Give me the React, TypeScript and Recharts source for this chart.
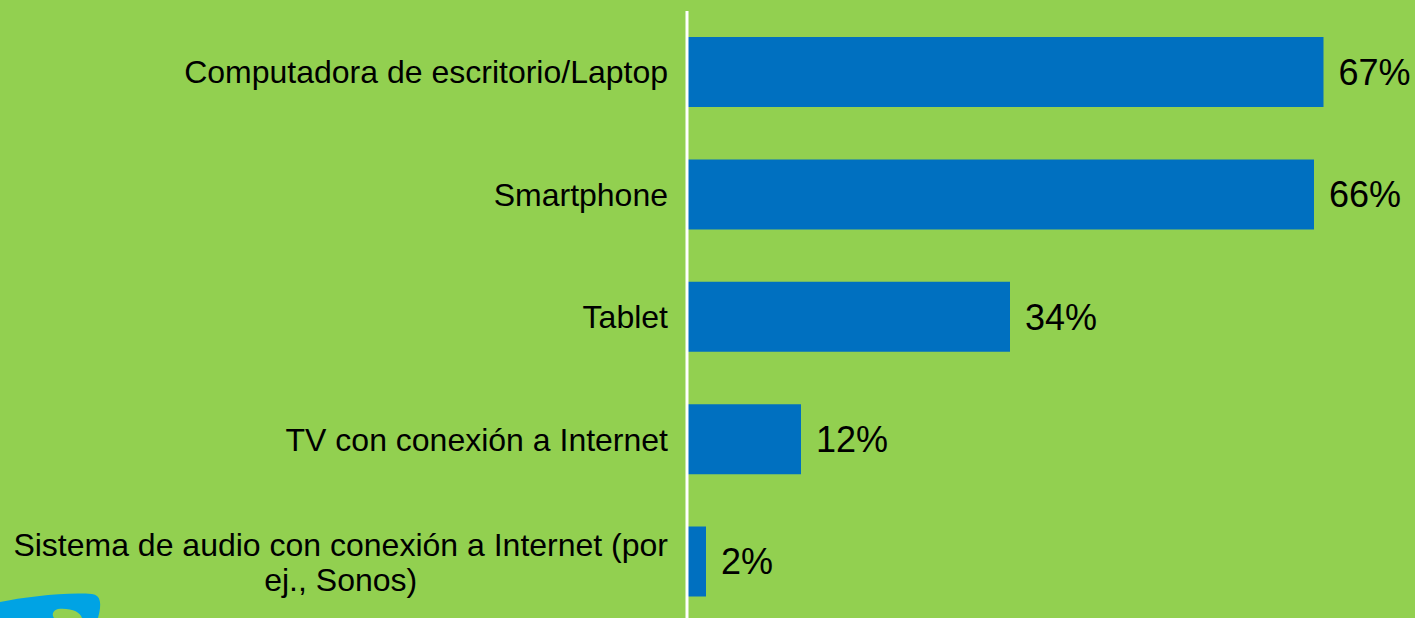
import React from "react";
import { BarChart, Bar, XAxis, YAxis, LabelList } from "recharts";

// devices used to access the internet (share of respondents, %)
const categories = [
  "Computadora de escritorio/Laptop",
  "Smartphone",
  "Tablet",
  "TV con conexión a Internet",
  "Sistema de audio con conexión a Internet (por\nej., Sonos)",
];
const shares = [67, 66, 34, 12, 2];

const data = categories.map((name, i) => ({ name, value: shares[i] }));

const GREEN = "#92D050";
const BLUE = "#0070C0";
const FONT = "'Liberation Sans', Arial, sans-serif";
const LABEL_SIZE = 32;

let ctx: CanvasRenderingContext2D | null = null;
const textWidth = (t: string) => {
  if (!ctx) ctx = document.createElement("canvas").getContext("2d");
  if (!ctx) return t.length * LABEL_SIZE * 0.5;
  ctx.font = `${LABEL_SIZE}px ${FONT}`;
  return ctx.measureText(t).width;
};

const CategoryTick = (props: any) => {
  const { x, y, payload } = props;
  const lines: string[] = String(payload.value).split("\n");
  const lh = 35;

  if (lines.length === 1) {
    return (
      <text x={x} y={y} dy="0.35em" textAnchor="end" fontSize={LABEL_SIZE} fontFamily={FONT} fill="#000">
        {lines[0]}
      </text>
    );
  }

  // multi-line labels are centred on the widest line, like the original slide
  const w = Math.max(...lines.map(textWidth));
  const cx = x - w / 2;
  const top = y - ((lines.length - 1) * lh) / 2;
  return (
    <text textAnchor="middle" fontSize={LABEL_SIZE} fontFamily={FONT} fill="#000">
      {lines.map((l, i) => (
        <tspan key={i} x={cx} y={top + i * lh} dy="0.35em">
          {l}
        </tspan>
      ))}
    </text>
  );
};

export default function App() {
  return (
    <div
      style={{
        position: "fixed",
        top: 0,
        left: 0,
        width: 1415,
        height: 618,
        overflow: "hidden",
        background: GREEN,
      }}
    >
      <BarChart
        width={1415}
        height={623}
        data={data}
        layout="vertical"
        margin={{ top: 11, right: 63, bottom: 0, left: 0 }}
      >
        <XAxis type="number" domain={[0, 70]} hide />
        <YAxis
          type="category"
          dataKey="name"
          width={687}
          tickLine={false}
          tickSize={0}
          tickMargin={19}
          axisLine={{ stroke: "#fff", strokeWidth: 3 }}
          tick={<CategoryTick />}
          interval={0}
        />
        <Bar dataKey="value" fill={BLUE} barSize={70} isAnimationActive={false}>
          <LabelList
            dataKey="value"
            position="right"
            offset={15}
            formatter={(v: any) => `${v}%`}
            style={{ fontSize: 36, fontFamily: FONT, fill: "#000" }}
          />
        </Bar>
      </BarChart>

      {/* corner of the logo peeking in at the bottom left */}
      <svg width={120} height={30} style={{ position: "absolute", left: 0, bottom: 0 }}>
        <path
          d="M0,14 C25,9 65,4 92,6 C101,7 102,16 98,30 L82,30 C80,24 72,20 58,21 C52,23 52,27 54,30 L0,30 Z"
          fill="#00A3E4"
        />
      </svg>
    </div>
  );
}
